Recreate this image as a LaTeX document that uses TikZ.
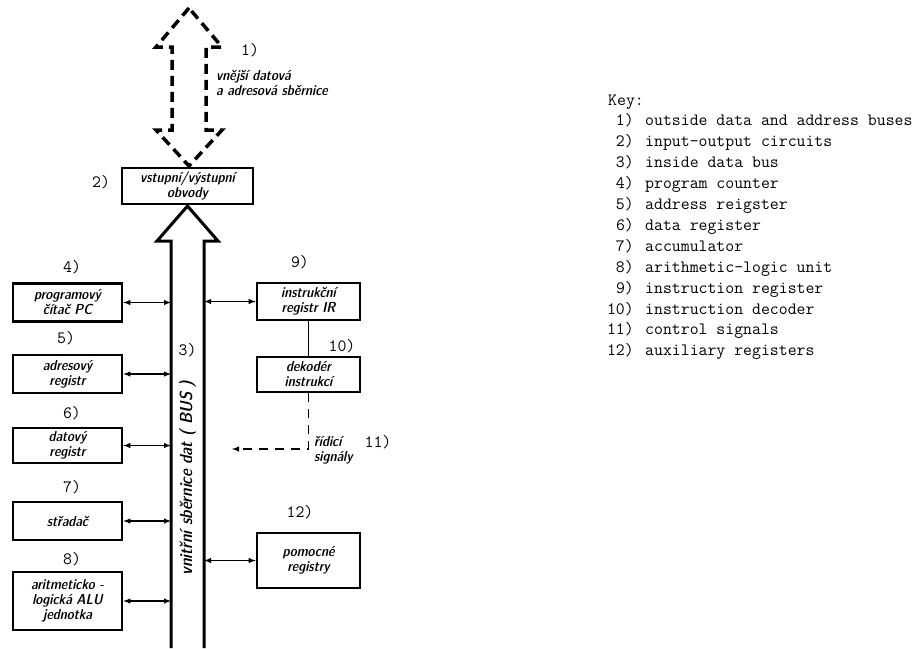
\documentclass[tikz,border=0pt]{standalone}
\usepackage{fontspec}
\usetikzlibrary{arrows, math}

\tikzset{
  lettering/.style={font=\sffamily\fontseries{sbc}\slshape\fontsize{14.5}{15}\selectfont},
  regbox/.style={draw, line width=2.6pt, inner sep=0pt, minimum height=38pt, align=center, lettering},
  lbox/.style={regbox, minimum width=109pt},
  rbox/.style={regbox, minimum width=103pt},
  numlbl/.style={inner sep=0pt, font=\ttfamily\fontsize{17.3}{20}\selectfont},
  link/.style={latex-latex, line width=1.4pt},
}

\begin{document}
\begin{tikzpicture}[x=1pt, y=1pt]
\tikzmath{
\bl=171;
\br=204;
\bc=187.5;
\lx=67.5;
\rx=308.5;
}
\useasboundingbox (0,0) rectangle (923,-648);

%outside bus (dashed double arrow)
\draw[line width=3.5pt, dash pattern=on 10pt off 6pt, line join=miter]
  (189,-8) -- (156,-47) -- (172,-47) -- (172,-130) -- (156,-130) -- (189,-166)
  -- (222,-130) -- (206,-130) -- (206,-47) -- (222,-47) -- cycle;
\node[numlbl] (n1) at (250,-50) {1)};
\node[lettering, align=left, anchor=north west, inner sep=0pt] (outbus) at (216,-70) {vnější datová\\a adresová sběrnice};

%input-output circuits
\node[regbox, minimum width=131pt, minimum height=36pt] (io) at (\bc,-186) {vstupní/výstupní\\obvody};
\node[numlbl] (n2) at (101,-182) {2)};

%inside bus (hollow arrow)
\draw[line width=3pt, line join=miter]
  (\bl,-648) -- (\bl,-241) -- (157,-241) -- (\bc,-206) -- (218,-241) -- (\br,-241) -- (\br,-648);
\coordinate (busL) at (\bl,0);
\coordinate (busR) at (\br,0);
\node[lettering, font=\sffamily\fontseries{sbc}\slshape\fontsize{17.5}{18}\selectfont, rotate=90, inner sep=0pt] (buslbl) at (\bc,-478) {vnitřní sběrnice dat ( BUS )};
\node[numlbl] (n3) at (\bc,-350) {3)};

%left registers
\node[lbox] (pc) at (\lx,-302.5) {programový\\čítač PC};
\node[lbox] (ar) at (\lx,-374) {adresový\\registr};
\node[lbox, minimum height=35pt] (dr) at (\lx,-445.5) {datový\\registr};
\node[lbox] (acc) at (\lx,-521) {střadač};
\node[lbox, minimum height=58pt] (alu) at (\lx,-601) {aritmeticko -\\logická ALU\\jednotka};
\node[numlbl] (n4) at (72,-267) {4)};
\node[numlbl] (n5) at (66,-338) {5)};
\node[numlbl] (n6) at (72,-413) {6)};
\node[numlbl] (n7) at (72,-487) {7)};
\node[numlbl] (n8) at (72,-559) {8)};

\foreach \r in {pc, ar, dr, acc, alu}
  \draw[link] (\r.east) -- (\r.east -| busL);

%right side
\node[rbox, minimum height=37pt] (ir) at (\rx,-301.5) {instrukční\\registr IR};
\node[rbox, minimum height=35pt] (dec) at (\rx,-374.5) {dekodér\\instrukcí};
\node[rbox, minimum height=55pt] (aux) at (\rx,-560.5) {pomocné\\registry};
\node[numlbl] (n9) at (300,-262) {9)};
\node[numlbl] (n10) at (342,-346) {10)};
\node[numlbl] (n12) at (300,-512) {12)};

\draw[link] (ir.west) -- (ir.west -| busR);
\draw[link] (aux.west) -- (aux.west -| busR);
\draw[line width=1.4pt] (ir.south) -- (dec.north);

%control signals
\coordinate (sigc) at (\rx,-449);
\coordinate (sigend) at (232,-449);
\draw[-latex, line width=1.4pt, dash pattern=on 9pt off 7pt] (dec.south) -- (sigc) -- (sigend);
\node[lettering, align=left, anchor=north west, inner sep=0pt] (sig) at (314,-436) {řídicí\\signály};
\node[numlbl] (n11) at (378,-442) {11)};

%key
\node[numlbl, anchor=base west] (key) at (608,-105) {Key:};
\foreach \t [count=\i] in {outside data and address buses, input-output circuits,
  inside data bus, program counter, address reigster, data register, accumulator,
  arithmetic-logic unit, instruction register, instruction decoder, control signals,
  auxiliary registers}{
  \node[numlbl, anchor=base east] (kn\i) at (634,-105-20.9*\i) {\i)};
  \node[numlbl, anchor=base west] (kt\i) at (645,-105-20.9*\i) {\t};
}
\end{tikzpicture}
\end{document}
